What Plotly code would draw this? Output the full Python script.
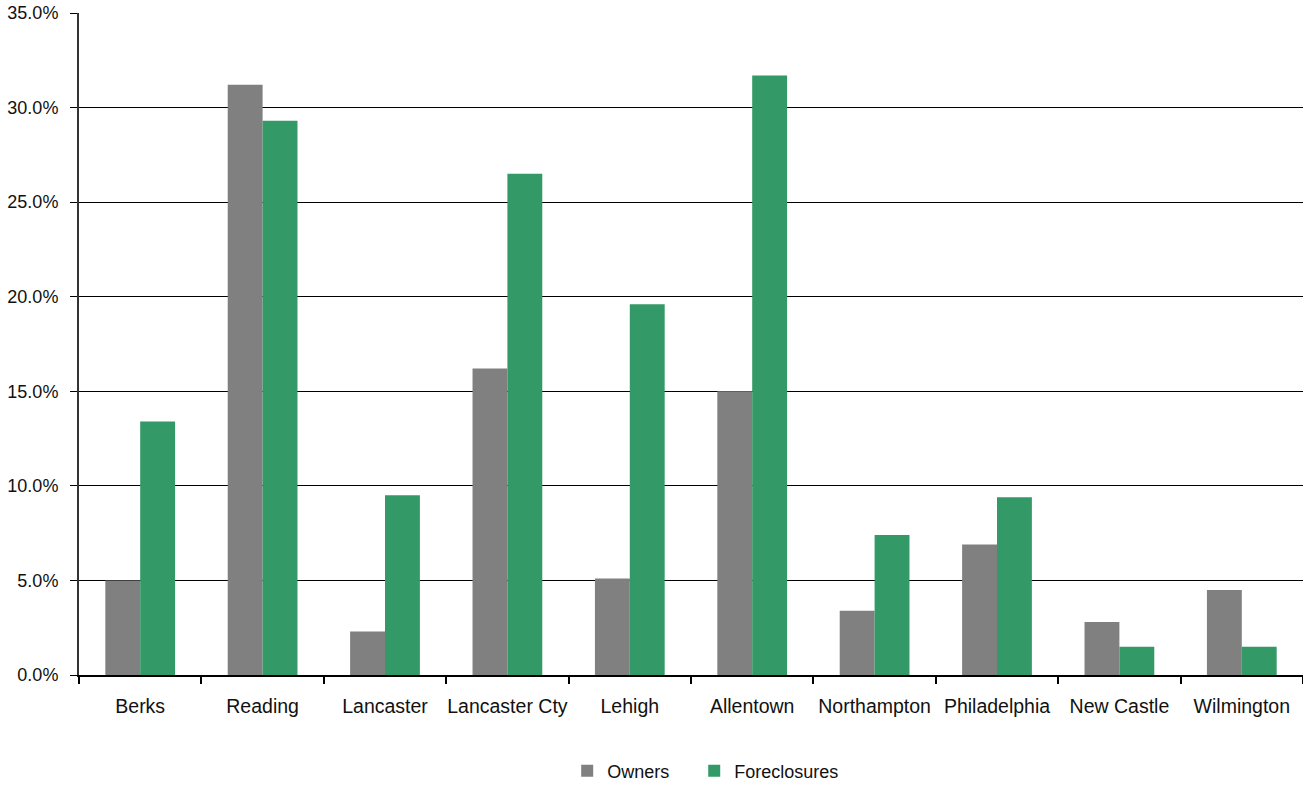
import plotly.graph_objects as go

categories = ["Berks", "Reading", "Lancaster", "Lancaster Cty", "Lehigh", "Allentown",
              "Northampton", "Philadelphia", "New Castle", "Wilmington"]
owners = [5.0, 31.2, 2.3, 16.2, 5.1, 15.0, 3.4, 6.9, 2.8, 4.5]
foreclosures = [13.4, 29.3, 9.5, 26.5, 19.6, 31.7, 7.4, 9.4, 1.5, 1.5]
y_ticks = [0, 5, 10, 15, 20, 25, 30, 35]

fig = go.Figure()
fig.add_trace(go.Bar(name="Owners" + "\u00a0" * 4, x=categories, y=owners,
                     marker_color="#808080", marker_line_width=0))
fig.add_trace(go.Bar(name="Foreclosures", x=categories, y=foreclosures,
                     marker_color="#339966", marker_line_width=0))

fig.update_layout(
    width=1303, height=790,
    margin=dict(l=79, r=0, t=13, b=115),
    paper_bgcolor="white", plot_bgcolor="white",
    barmode="group", bargap=0.43, bargroupgap=0,
    font=dict(family="Liberation Sans, Arial, sans-serif", size=18, color="#111"),
    showlegend=True,
    legend=dict(orientation="h", x=0.512, xanchor="center", y=-0.145, yanchor="middle",
                font=dict(size=18), itemwidth=30, traceorder="normal",
                itemsizing="constant"),
    xaxis=dict(type="category", tickson="boundaries", ticks="outside", ticklen=7,
               tickcolor="#000", tickwidth=1.5, showline=True, linecolor="#000", linewidth=1.5,
               showgrid=False, ticklabelstandoff=13, tickfont=dict(size=19.5),
               tickangle=0, automargin=False),
    yaxis=dict(range=[0, 35], tickvals=y_ticks, ticktext=[f"{v:.1f}%" for v in y_ticks],
               showgrid=True, gridcolor="#000", gridwidth=1, ticks="outside", ticklen=7,
               tickcolor="#000", showline=True, linecolor="#333", linewidth=2,
               zeroline=False, ticklabelstandoff=8, automargin=False),
)

fig.write_html("out.html")
